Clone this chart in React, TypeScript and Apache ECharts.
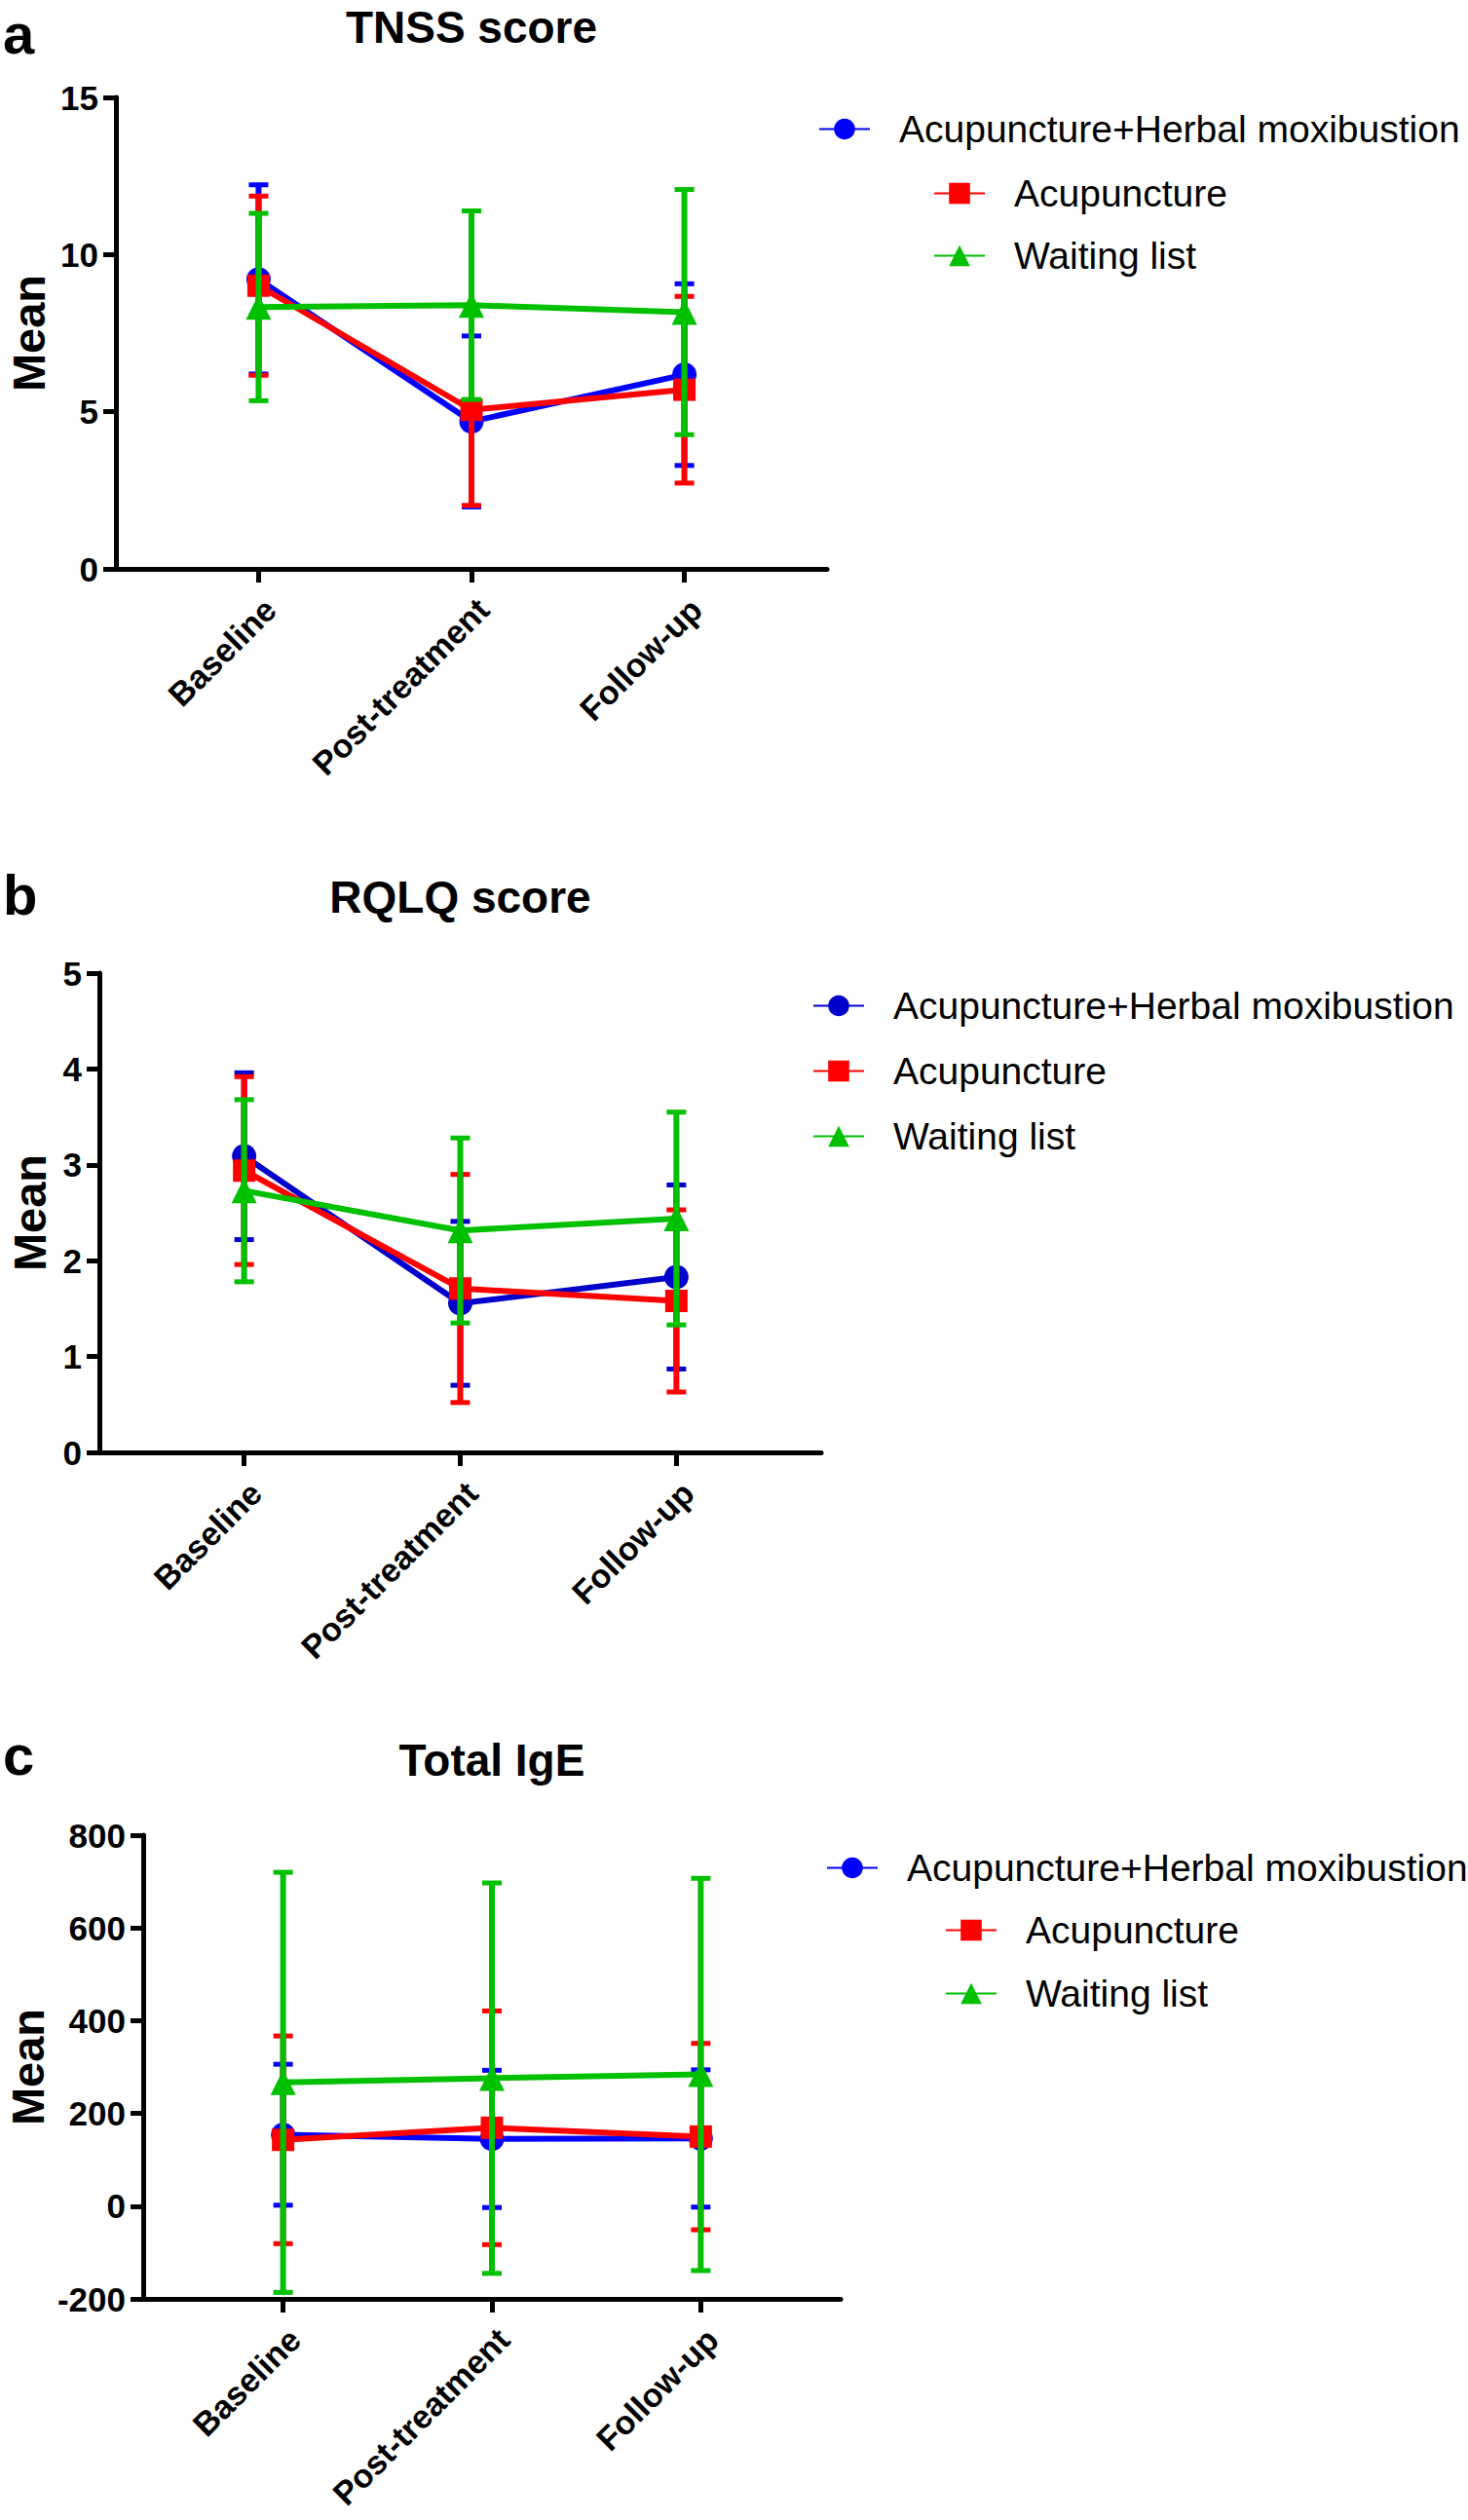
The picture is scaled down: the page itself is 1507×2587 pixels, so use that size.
import React, { useEffect, useRef } from "react";
import * as echarts from "echarts";

// ---------------- data ----------------
const categories = ["Baseline", "Post-treatment", "Follow-up"];
const groupNames = ["Acupuncture+Herbal moxibustion", "Acupuncture", "Waiting list"];

// a: TNSS score (mean ± SD)
const tnssComboMean = [9.21, 4.69, 6.18];
const tnssComboSD = [3.01, 2.72, 2.89];
const tnssAcuMean = [9.01, 5.06, 5.7];
const tnssAcuSD = [2.85, 3.04, 2.97];
const tnssWaitMean = [8.33, 8.39, 8.17];
const tnssWaitSD = [2.98, 3.0, 3.9];

// b: RQLQ score
const rqlqComboMean = [3.09, 1.555, 1.83];
const rqlqComboSD = [0.87, 0.855, 0.96];
const rqlqAcuMean = [2.94, 1.71, 1.58];
const rqlqAcuSD = [0.98, 1.19, 0.95];
const rqlqWaitMean = [2.73, 2.315, 2.44];
const rqlqWaitSD = [0.95, 0.965, 1.11];

// c: Total IgE
const igeComboMean = [154, 145, 146];
const igeComboSD = [152, 148, 148];
const igeAcuMean = [143, 169, 150];
const igeAcuSD = [224, 252, 201];
const igeWaitMean = [267, 276, 284];
const igeWaitSD = [453, 421, 423];

// y-axis ticks
const tnssTicks = { min: 0, max: 15, interval: 5 };
const rqlqTicks = { min: 0, max: 5, interval: 1 };
const igeTicks = { min: -200, max: 800, interval: 200 };

// ---------------- styling ----------------
const FONT = "'Liberation Sans', Arial, Helvetica, sans-serif";
const GREEN = "#00c000";
const RED = "#ff0000";
const symbols = ["circle", "rect", "triangle"];
const symbolSizes = [25, 23, 26];
const LW = 6;

const panels = [
  {
    letter: "a",
    title: "TNSS score",
    ticks: tnssTicks,
    means: [tnssComboMean, tnssAcuMean, tnssWaitMean],
    sds: [tnssComboSD, tnssAcuSD, tnssWaitSD],
    colors: ["#0000ff", RED, GREEN],
    grid: { left: 119, top: 100, width: 730, height: 484 },
    letterY: 34,
    titleY: 28,
    nameGap: 66,
    legend: [
      { left: 840, cy: 133 },
      { left: 958, cy: 199 },
      { left: 958, cy: 263 },
    ],
  },
  {
    letter: "b",
    title: "RQLQ score",
    ticks: rqlqTicks,
    means: [rqlqComboMean, rqlqAcuMean, rqlqWaitMean],
    sds: [rqlqComboSD, rqlqAcuSD, rqlqWaitSD],
    colors: ["#0000cc", RED, GREEN],
    grid: { left: 102, top: 999, width: 741, height: 492 },
    letterY: 918,
    titleY: 921,
    nameGap: 48,
    legend: [
      { left: 834, cy: 1033 },
      { left: 834, cy: 1100 },
      { left: 834, cy: 1167 },
    ],
  },
  {
    letter: "c",
    title: "Total IgE",
    ticks: igeTicks,
    means: [igeComboMean, igeAcuMean, igeWaitMean],
    sds: [igeComboSD, igeAcuSD, igeWaitSD],
    colors: ["#0000ff", RED, GREEN],
    grid: { left: 147, top: 1884, width: 716, height: 476 },
    letterY: 1801,
    titleY: 1807,
    nameGap: 95,
    legend: [
      { left: 848, cy: 1918 },
      { left: 970, cy: 1982 },
      { left: 970, cy: 2047 },
    ],
  },
];

function buildOption() {
  const grids: any[] = [];
  const xAxes: any[] = [];
  const yAxes: any[] = [];
  const series: any[] = [];
  const legends: any[] = [];
  const graphics: any[] = [];

  panels.forEach((p, pi) => {
    grids.push({ ...p.grid, containLabel: false });
    xAxes.push({
      gridIndex: pi,
      type: "value",
      min: -0.67,
      max: 2.67,
      splitLine: { show: false },
      axisLine: { show: true, onZero: false, lineStyle: { color: "#000", width: 5 } },
      axisTick: { show: true, customValues: [0, 1, 2], length: 14, lineStyle: { color: "#000", width: 5 } },
      axisLabel: {
        show: true,
        customValues: [0, 1, 2],
        formatter: (v: number) => categories[Math.round(v)] ?? "",
        rotate: 45,
        margin: 24,
        verticalAlign: "top",
        fontSize: 34,
        fontWeight: "bold",
        fontFamily: FONT,
        color: "#000",
      },
    });
    yAxes.push({
      gridIndex: pi,
      type: "value",
      min: p.ticks.min,
      max: p.ticks.max,
      interval: p.ticks.interval,
      splitLine: { show: false },
      axisLine: { show: true, onZero: false, lineStyle: { color: "#000", width: 5 } },
      axisTick: { show: true, length: 13, lineStyle: { color: "#000", width: 5 } },
      axisLabel: { fontSize: 35, fontWeight: "bold", fontFamily: FONT, color: "#000", margin: 18 },
      name: "Mean",
      nameLocation: "middle",
      nameRotate: 90,
      nameGap: p.nameGap,
      nameTextStyle: { fontSize: 47, fontWeight: "bold", fontFamily: FONT, color: "#000" },
    });

    groupNames.forEach((g, gi) => {
      const color = p.colors[gi];
      const mean = p.means[gi];
      const sd = p.sds[gi];
      const sname = g + "#" + p.letter;
      series.push({
        type: "custom",
        name: "err-" + sname,
        xAxisIndex: pi,
        yAxisIndex: pi,
        z: 2 + gi * 2,
        silent: true,
        encode: { x: 0, y: [1, 2] },
        data: mean.map((m, i) => [i, m - sd[i], m + sd[i]]),
        renderItem: (params: any, api: any) => {
          const x = api.value(0);
          const lo = api.coord([x, api.value(1)]);
          const hi = api.coord([x, api.value(2)]);
          const hw = 10;
          const style = { stroke: color, lineWidth: LW, fill: null };
          const capStyle = { stroke: color, lineWidth: 5, fill: null };
          return {
            type: "group",
            children: [
              { type: "line", shape: { x1: lo[0], y1: lo[1], x2: hi[0], y2: hi[1] }, style },
              { type: "line", shape: { x1: hi[0] - hw, y1: hi[1], x2: hi[0] + hw, y2: hi[1] }, style: capStyle },
              { type: "line", shape: { x1: lo[0] - hw, y1: lo[1], x2: lo[0] + hw, y2: lo[1] }, style: capStyle },
            ],
          };
        },
      });
      series.push({
        type: "line",
        name: sname,
        xAxisIndex: pi,
        yAxisIndex: pi,
        z: 3 + gi * 2,
        data: mean.map((m, i) => [i, m]),
        symbol: symbols[gi],
        symbolSize: symbolSizes[gi],
        showSymbol: true,
        lineStyle: { color, width: LW },
        itemStyle: { color },
      });
      const lg = p.legend[gi];
      legends.push({
        show: true,
        data: [sname],
        left: lg.left,
        top: lg.cy - 20,
        padding: 0,
        itemWidth: 52,
        itemHeight: 27,
        selectedMode: false,
        formatter: (n: string) => n.split("#")[0],
        textStyle: { fontSize: 39, fontFamily: FONT, color: "#000", padding: [0, 0, 0, 25] },
      });
    });

    graphics.push({
      type: "text",
      x: 3,
      y: p.letterY,
      style: {
        text: p.letter,
        fontSize: 58,
        fontWeight: "bold",
        fontFamily: FONT,
        fill: "#000",
        textAlign: "left",
        textVerticalAlign: "middle",
      },
    });
    graphics.push({
      type: "text",
      x: p.grid.left + p.grid.width / 2,
      y: p.titleY,
      style: {
        text: p.title,
        fontSize: 46,
        fontWeight: "bold",
        fontFamily: FONT,
        fill: "#000",
        textAlign: "center",
        textVerticalAlign: "middle",
      },
    });
  });

  return {
    animation: false,
    backgroundColor: "#fff",
    grid: grids,
    xAxis: xAxes,
    yAxis: yAxes,
    legend: legends,
    series,
    graphic: graphics,
  };
}

export default function App() {
  const ref = useRef<HTMLDivElement>(null);
  useEffect(() => {
    if (!ref.current) return;
    const chart = echarts.init(ref.current, undefined, { renderer: "svg" });
    chart.setOption(buildOption() as any);
    return () => chart.dispose();
  }, []);
  return (
    <div
      ref={ref}
      style={{ position: "absolute", left: 0, top: 0, width: 1507, height: 2587, background: "#fff" }}
    />
  );
}
